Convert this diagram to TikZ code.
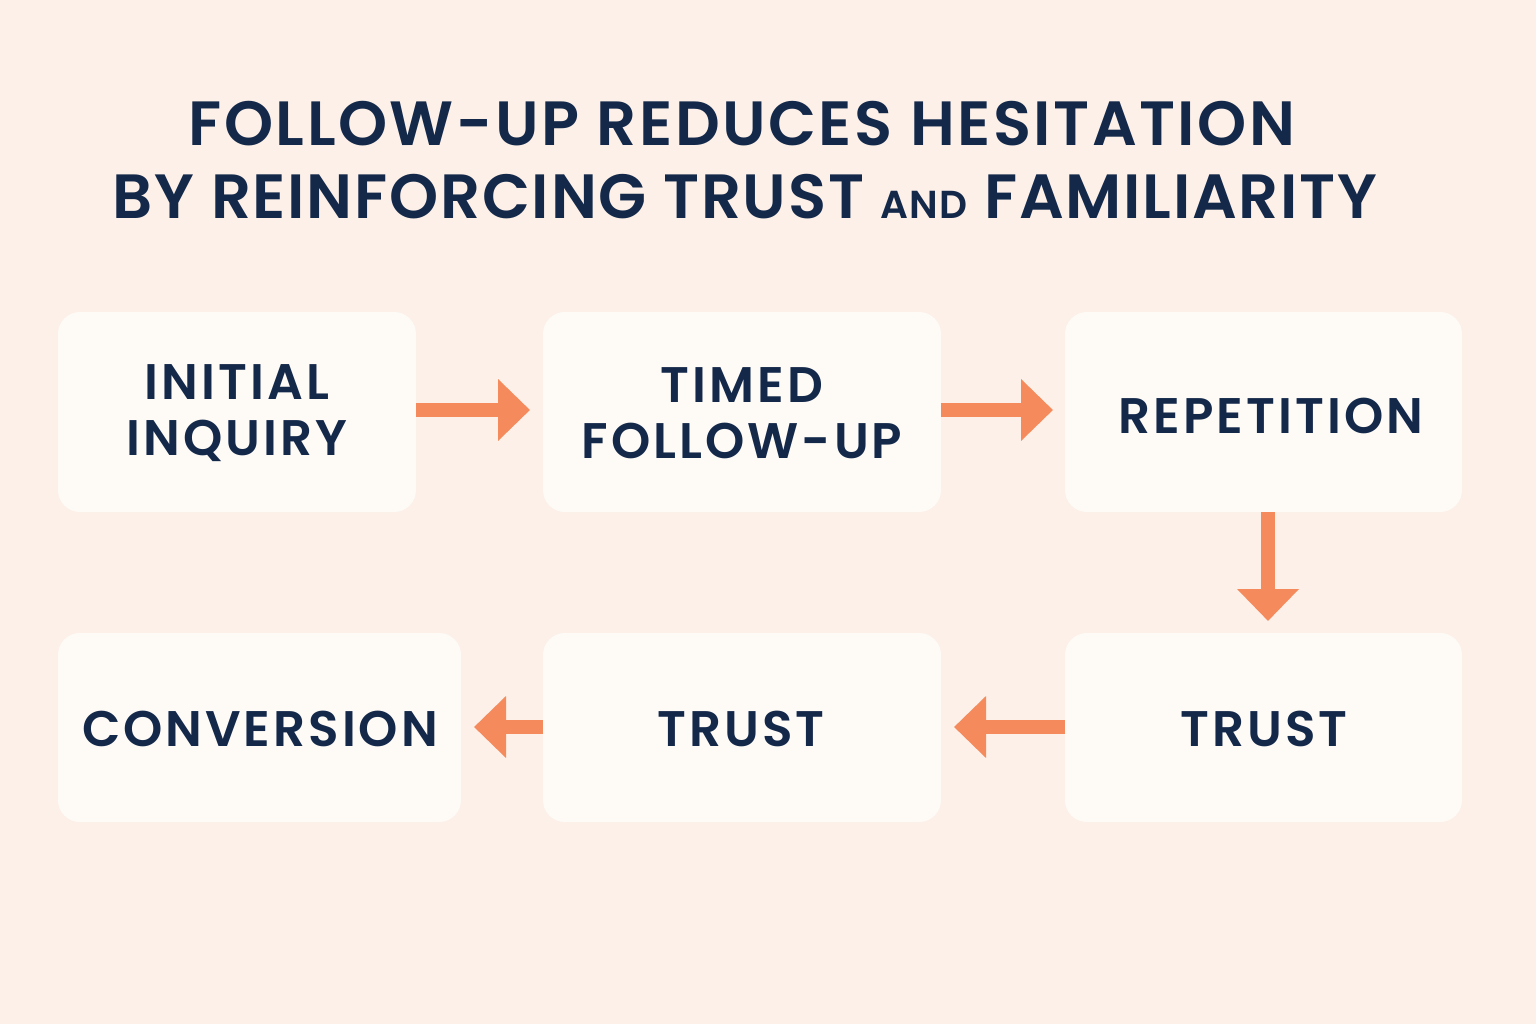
\documentclass[tikz,border=0pt]{standalone}
\usepackage{fontspec}
\setmainfont{Poppins}[UprightFont=* SemiBold, BoldFont=* Bold]
\usetikzlibrary{arrows.meta}
\definecolor{bgc}{HTML}{FCF0E8}
\definecolor{boxc}{HTML}{FEFBF7}
\definecolor{navy}{HTML}{14294A}
\definecolor{arr}{HTML}{F58A5C}
\newfontfamily\titlefont{Poppins}[UprightFont=* SemiBold, LetterSpace=4]
\newfontfamily\titlefontb{Poppins}[UprightFont=* SemiBold, LetterSpace=2.8]
\newfontfamily\boxfont{Poppins}[UprightFont=* SemiBold, LetterSpace=6]
\tikzset{
  stepbox/.style={fill=boxc, rounded corners=22pt, draw=none},
  lbl/.style={text=navy, font=\boxfont\fontsize{50}{58}\selectfont, align=center},
  flow/.style={draw=arr, line width=14pt, -{Triangle[width=60pt,length=32pt]}},
}
\begin{document}
\begin{tikzpicture}[x=1pt,y=-1pt]
\fill[bgc] (0,0) rectangle (1536,1024);
\useasboundingbox (0,0) rectangle (1536,1024);
% title
\node[text=navy, font=\titlefont\fontsize{62.5}{70}\selectfont] (t1) at (742,124) {FOLLOW-UP REDUCES HESITATION};
\node[text=navy, font=\titlefontb\fontsize{62.5}{70}\selectfont] (t2) at (745,197) {BY REINFORCING TRUST {\fontsize{39}{40}\selectfont AND} FAMILIARITY};
% boxes
\fill[stepbox] (58,312) rectangle (416,512);
\node[lbl] (b1) at (237,413) {INITIAL\\[-2pt]INQUIRY};
\fill[stepbox] (543,312) rectangle (941,512);
\node[lbl] (b2) at (742,413) {TIMED\\[-2pt]FOLLOW-UP};
\fill[stepbox] (1065,312) rectangle (1462,512);
\node[lbl] (b3) at (1271,416) {REPETITION};
\fill[stepbox] (58,633) rectangle (461,822);
\node[lbl] (b4) at (260,729) {CONVERSION};
\fill[stepbox] (543,633) rectangle (941,822);
\node[lbl] (b5) at (741,729) {TRUST};
\fill[stepbox] (1065,633) rectangle (1462,822);
\node[lbl] (b6) at (1264,729) {TRUST};
% connector anchors
\coordinate (a1s) at (416,410); \coordinate (a1e) at (530,410);
\coordinate (a2s) at (941,410); \coordinate (a2e) at (1053,410);
\coordinate (a3s) at (1268,512); \coordinate (a3e) at (1268,621);
\coordinate (a4s) at (1065,727); \coordinate (a4e) at (954,727);
\coordinate (a5s) at (543,727); \coordinate (a5e) at (474,727);
\draw[flow] (a1s) -- (a1e);
\draw[flow] (a2s) -- (a2e);
\draw[flow] (a3s) -- (a3e);
\draw[flow] (a4s) -- (a4e);
\draw[flow] (a5s) -- (a5e);
\end{tikzpicture}
\end{document}
